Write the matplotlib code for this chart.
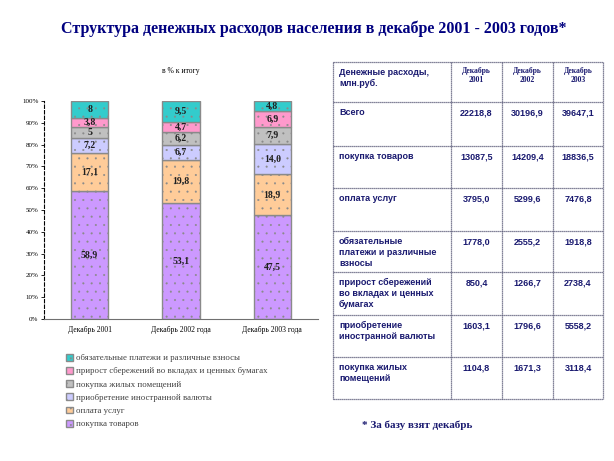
import numpy as np
import matplotlib.pyplot as plt

###########################################################
# data

years = ['Декабрь 2001', 'Декабрь 2002 года', 'Декабрь 2003 года']

# shares in % (bottom to top of each bar)
categories = ['покупка товаров', 'оплата услуг', 'приобретение иностранной валюты',
              'покупка жилых помещений', 'прирост сбережений во вкладах и ценных бумагах',
              'обязательные платежи и различные взносы']
share_goods = [58.9, 53.1, 47.5]
share_services = [17.1, 19.8, 18.9]
share_currency = [7.2, 6.7, 14.0]
share_housing = [5.0, 6.2, 7.9]
share_savings = [3.8, 4.7, 6.9]
share_payments = [8.0, 9.5, 4.8]
share_labels = [['58,9', '53,1', '47,5'],
                ['17,1', '19,8', '18,9'],
                ['7,2', '6,7', '14,0'],
                ['5', '6,2', '7,9'],
                ['3,8', '4,7', '6,9'],
                ['8', '9,5', '4,8']]

# table, mln rub
table_head = ['Денежные расходы,\nмлн.руб.', 'Декабрь\n2001', 'Декабрь\n2002', 'Декабрь\n2003']
table_rows = ['Всего', 'покупка товаров', 'оплата услуг',
              'обязательные\nплатежи и различные\nвзносы',
              'прирост сбережений\nво вкладах и ценных\nбумагах',
              'приобретение\nиностранной валюты', 'покупка жилых\nпомещений']
spend_2001 = ['22218,8', '13087,5', '3795,0', '1778,0', '850,4', '1603,1', '1104,8']
spend_2002 = ['30196,9', '14209,4', '5299,6', '2555,2', '1266,7', '1796,6', '1671,3']
spend_2003 = ['39647,1', '18836,5', '7476,8', '1918,8', '2738,4', '5558,2', '3118,4']

colors = ['#CC99FF', '#FFCC99', '#CCCCFF', '#C0C0C0', '#FF99CC', '#33CCCC']
navy = '#1a1a70'
serif = 'Liberation Serif'
sans = 'Liberation Sans'

plt.rcParams['hatch.linewidth'] = 0.25

###########################################################
# figure

fig = plt.figure(figsize=(6.14, 4.61), dpi=100)

fig.text(314 / 614, 1 - 29 / 461,
         'Структура денежных расходов населения в декабре 2001 - 2003 годов*',
         ha='center', va='center', fontsize=11.5, fontweight='bold',
         family=serif, color='#000080')

ax = fig.add_axes([44 / 614, 1 - 319 / 461, 274 / 614, 218 / 461])
x = np.arange(len(years))
series = [share_goods, share_services, share_currency, share_housing,
          share_savings, share_payments]
bottom = np.zeros(len(years))
handles = []
for i, vals in enumerate(series):
    vals = np.array(vals)
    b = ax.bar(x, vals, 0.41, bottom=bottom, color=colors[i],
               edgecolor='#8a8a8a', linewidth=1.0, hatch='..', zorder=2)
    handles.append(b)
    for j in range(len(years)):
        ax.text(x[j], bottom[j] + vals[j] / 2, share_labels[i][j],
                ha='center', va='center', fontsize=7, fontweight='bold',
                family=serif, color='#202020', zorder=3)
    bottom += vals

ax.set_xlim(-0.5, 2.5)
ax.set_ylim(0, 100)
ax.set_yticks(np.arange(0, 101, 10))
ax.set_yticklabels([f'{v}%' for v in range(0, 101, 10)], family=serif, fontsize=5)
ax.set_xticks(x)
ax.set_xticklabels(years, family=serif, fontsize=5.5)
ax.tick_params(axis='y', length=2, width=0.6, pad=2)
ax.tick_params(axis='x', length=0, pad=5)
for side in ['top', 'right']:
    ax.spines[side].set_visible(False)
ax.spines['left'].set_linestyle((0, (3, 2)))
ax.spines['left'].set_linewidth(0.8)
ax.spines['bottom'].set_color('#707070')
ax.spines['bottom'].set_linewidth(0.8)
ax.set_title('в % к итогу', family=serif, fontsize=5.5, pad=20)

leg = fig.legend(handles[::-1], categories[::-1], loc='upper left',
                 bbox_to_anchor=(58 / 614, 1 - 346 / 461), frameon=False,
                 prop={'family': serif, 'size': 6.3}, handlelength=0.8,
                 handleheight=0.8, handletextpad=0.4, labelspacing=0.55)
for t in leg.get_texts():
    t.set_color('#404040')

###########################################################
# table

tab = fig.add_axes([0, 0, 1, 1])
tab.set_xlim(0, 614)
tab.set_ylim(461, 0)
tab.axis('off')

col_edges = [333, 451, 502, 553, 603]
row_edges = [62, 102, 146, 188, 231, 272, 315, 357, 399]
tab.hlines(row_edges, col_edges[0], col_edges[-1], color='#5a5a78', lw=0.9,
           linestyles=(0, (1, 0.6)))
tab.vlines(col_edges, row_edges[0], row_edges[-1], color='#5a5a78', lw=0.9,
           linestyles=(0, (1, 0.6)))

tab.text(col_edges[0] + 6, row_edges[0] + 6, table_head[0], ha='left', va='top',
         fontsize=6.5, fontweight='bold', family=sans, color=navy, linespacing=1.3)
for c in range(1, 4):
    tab.text(0.5 * (col_edges[c] + col_edges[c + 1]), row_edges[0] + 5, table_head[c],
             ha='center', va='top', fontsize=5.5, fontweight='bold', family=serif,
             color=navy, linespacing=1.15)

cols = [spend_2001, spend_2002, spend_2003]
for r, label in enumerate(table_rows):
    top = row_edges[r + 1]
    tab.text(col_edges[0] + 6, top + 6, label, ha='left', va='top', fontsize=6.5,
             fontweight='bold', family=sans, color=navy, linespacing=1.25)
    for c in range(3):
        tab.text(0.5 * (col_edges[c + 1] + col_edges[c + 2]), top + 6, cols[c][r],
                 ha='center', va='top', fontsize=6.5, fontweight='bold', family=sans,
                 color=navy)

fig.text(362 / 614, 1 - 425 / 461, '* За базу взят декабрь', ha='left', va='center',
         fontsize=8, fontweight='bold', family=serif, color=navy)

fig.savefig('out.png', dpi=100)
